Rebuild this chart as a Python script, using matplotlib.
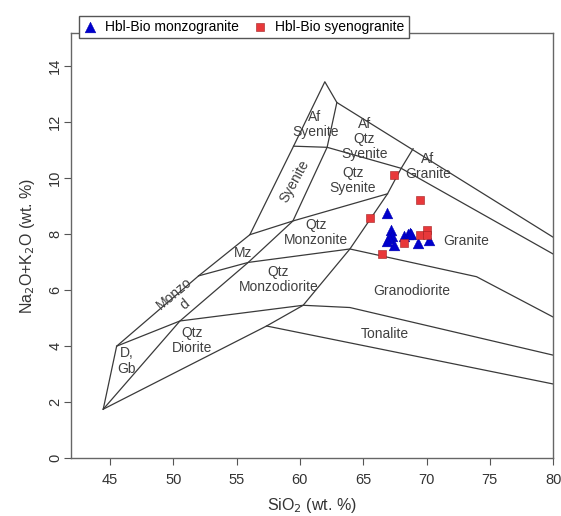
import matplotlib.pyplot as plt

plt.rcParams['font.family'] = ['Liberation Sans', 'DejaVu Sans']

# field boundaries of the plutonic TAS diagram (SiO2, Na2O+K2O)
outer_line = [(44.47, 1.75), (45.53, 4.0), (52.0, 6.51), (56.05, 7.98), (59.5, 11.14),
              (61.97, 13.44), (62.92, 12.7), (80.0, 7.89)]
inner_diag = [(44.47, 1.75), (50.53, 4.9), (55.92, 6.99), (59.45, 8.47), (62.15, 11.1),
              (62.92, 12.7)]
qtz_curve = [(68.94, 11.05), (68.0, 10.35), (66.92, 9.44), (63.95, 7.47), (60.26, 5.46),
             (57.37, 4.72)]
bottom_line = [(44.47, 1.75), (57.37, 4.72), (80.0, 2.65)]
gb_top = [(45.53, 4.0), (50.53, 4.9), (60.26, 5.46), (63.95, 5.38), (80.0, 3.68)]
monzod_top = [(52.0, 6.51), (55.92, 6.99), (63.95, 7.47), (73.95, 6.48), (80.0, 5.04)]
mz_top = [(56.05, 7.98), (59.45, 8.47), (66.92, 9.44)]
syenite_top = [(59.5, 11.14), (62.15, 11.1), (68.0, 10.35), (80.0, 7.29)]
boundaries = [outer_line, inner_diag, qtz_curve, bottom_line, gb_top, monzod_top,
              mz_top, syenite_top]

# field names: (text, SiO2, total alkali, rotation)
field_labels = [
    ("Af\nSyenite", 61.2, 11.9, 0), ("Af\nQtz\nSyenite", 65.1, 11.4, 0),
    ("Af\nGranite", 70.1, 10.4, 0), ("Syenite", 59.6, 9.9, 61),
    ("Qtz\nSyenite", 64.2, 9.9, 0), ("Qtz\nMonzonite", 61.3, 8.07, 0),
    ("Mz", 55.5, 7.33, 0), ("Qtz\nMonzodiorite", 58.3, 6.39, 0),
    ("Monzo\nd", 50.5, 5.68, 40), ("Granite", 73.1, 7.74, 0),
    ("Granodiorite", 68.8, 5.97, 0), ("Tonalite", 66.7, 4.45, 0),
    ("Qtz\nDiorite", 51.5, 4.2, 0), ("D,\nGb", 46.3, 3.47, 0),
]

# samples
monzo_sio2 = [66.9, 67.2, 67.3, 67.0, 66.9, 67.4, 68.2, 68.5, 68.7, 68.8, 69.3, 70.2]
monzo_alk = [8.76, 8.15, 7.95, 7.85, 7.75, 7.6, 7.95, 8.0, 8.05, 8.0, 7.7, 7.8]
syeno_sio2 = [67.4, 69.5, 65.5, 69.5, 70.05, 70.0, 68.2, 66.5]
syeno_alk = [10.12, 9.23, 8.58, 7.98, 8.13, 7.97, 7.67, 7.28]

fig = plt.figure(figsize=(5.61, 5.16), dpi=100)
ax = fig.add_axes([0.126, 0.112, 0.86, 0.824])

for line in boundaries:
    xs, ys = zip(*line)
    ax.plot(xs, ys, color='#3a3a3a', lw=0.9, zorder=1)

for text, x, y, rot in field_labels:
    ax.text(x, y, text, ha='center', va='center', fontsize=10, color='#404040',
            rotation=rot, linespacing=1.1, zorder=2)

tri = ax.scatter(monzo_sio2, monzo_alk, marker='^', s=60, color='#0000cc',
                 edgecolors='#0000aa', linewidths=0.3, zorder=3, label='Hbl-Bio monzogranite')
sq = ax.scatter(syeno_sio2, syeno_alk, marker='s', s=40, color='#e8383a',
                edgecolors='#a02020', linewidths=0.4, zorder=4, label='Hbl-Bio syenogranite')

ax.set_xlim(41.9, 80)
ax.set_ylim(0, 15.18)
ax.set_xticks(range(45, 81, 5))
ax.set_yticks(range(0, 15, 2))
ax.tick_params(direction='out', length=5, width=0.8, colors='#555555',
               labelcolor='#333333', labelsize=10.5)
ax.tick_params(axis='x', pad=6)
ax.tick_params(axis='y', labelrotation=90, pad=1)
for lab in ax.get_yticklabels():
    lab.set_va('center')
for sp in ax.spines.values():
    sp.set_color('#666666')
    sp.set_linewidth(1.0)

ax.set_xlabel('SiO$_2$ (wt. %)', fontsize=11.5, color='#333333', labelpad=6)
ax.set_ylabel('Na$_2$O+K$_2$O (wt. %)', fontsize=11.5, color='#333333', labelpad=8)

fig.legend(handles=[tri, sq], loc='upper left', bbox_to_anchor=(0.128, 0.983),
           ncol=2, fontsize=10, frameon=True, fancybox=False, edgecolor='#555555',
           framealpha=1, handlelength=1.0, handletextpad=0.6, columnspacing=1.0,
           borderpad=0.3, scatterpoints=1)

fig.savefig('out.png', dpi=100)
